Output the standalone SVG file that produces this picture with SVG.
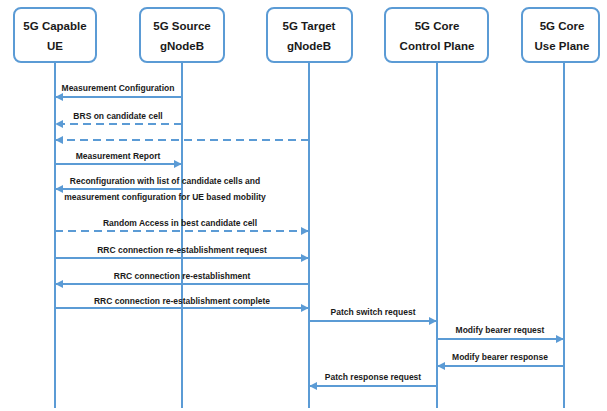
<svg xmlns="http://www.w3.org/2000/svg" width="607" height="411" viewBox="0 0 607 411">
<style>
.box{fill:#fff;stroke:#5B9BD5;stroke-width:2}
.life{stroke:#5B9BD5;stroke-width:2}
.msg{stroke:#5B9BD5;stroke-width:2;fill:none}
.dash{stroke-dasharray:8 5}
.bt{font-family:"Liberation Sans",Arial,sans-serif;font-weight:bold;font-size:11.5px;fill:#1a1a1a;text-anchor:middle}
.lt{font-family:"Liberation Sans",Arial,sans-serif;font-weight:bold;font-size:8.5px;fill:#1a1a1a;text-anchor:middle}
</style>
<defs>
<marker id="ah" viewBox="0 0 10 10" refX="9" refY="5" markerWidth="4" markerHeight="4" orient="auto" markerUnits="strokeWidth">
<path d="M0,0 L10,5 L0,10 z" fill="#5B9BD5"/>
</marker>
</defs>
<rect width="607" height="411" fill="#fff"/>
<g id="lifelines">
<line class="life" x1="55" y1="62" x2="55" y2="408"/>
<line class="life" x1="182" y1="62" x2="182" y2="408"/>
<line class="life" x1="309" y1="62" x2="309" y2="408"/>
<line class="life" x1="437" y1="62" x2="437" y2="408"/>
<line class="life" x1="564" y1="62" x2="564" y2="408"/>
</g>
<g id="ue"><rect class="box" x="14" y="8" width="82" height="54" rx="7"/><text class="bt" x="55" y="30">5G Capable</text><text class="bt" x="55" y="50">UE</text></g>
<g id="source"><rect class="box" x="140" y="8" width="84" height="54" rx="7"/><text class="bt" x="182" y="30">5G Source</text><text class="bt" x="182" y="50">gNodeB</text></g>
<g id="target"><rect class="box" x="267" y="8" width="85" height="54" rx="7"/><text class="bt" x="309" y="30">5G Target</text><text class="bt" x="309" y="50">gNodeB</text></g>
<g id="control"><rect class="box" x="385" y="8" width="103" height="54" rx="7"/><text class="bt" x="437" y="30">5G Core</text><text class="bt" x="437" y="50">Control Plane</text></g>
<g id="user"><rect class="box" x="522" y="8" width="77" height="54" rx="7"/><text class="bt" x="562" y="30">5G Core</text><text class="bt" x="562" y="50">Use Plane</text></g>
<g id="connectors">
<line class="msg" x1="182" y1="97" x2="56" y2="97" marker-end="url(#ah)"/>
<line class="msg dash" x1="182" y1="124" x2="56" y2="124" marker-end="url(#ah)"/>
<line class="msg dash" x1="309" y1="140" x2="56" y2="140" marker-end="url(#ah)"/>
<line class="msg" x1="55" y1="164" x2="181" y2="164" marker-end="url(#ah)"/>
<line class="msg" x1="182" y1="189" x2="56" y2="189" marker-end="url(#ah)"/>
<line class="msg dash" x1="55" y1="231" x2="308" y2="231" marker-end="url(#ah)"/>
<line class="msg" x1="55" y1="258" x2="308" y2="258" marker-end="url(#ah)"/>
<line class="msg" x1="309" y1="284" x2="56" y2="284" marker-end="url(#ah)"/>
<line class="msg" x1="55" y1="308" x2="308" y2="308" marker-end="url(#ah)"/>
<line class="msg" x1="309" y1="321" x2="436" y2="321" marker-end="url(#ah)"/>
<line class="msg" x1="437" y1="339" x2="563" y2="339" marker-end="url(#ah)"/>
<line class="msg" x1="564" y1="366" x2="438" y2="366" marker-end="url(#ah)"/>
<line class="msg" x1="437" y1="386" x2="310" y2="386" marker-end="url(#ah)"/>
</g>
<g id="labels">
<text class="lt" x="118" y="91">Measurement Configuration</text>
<text class="lt" x="118" y="119">BRS on candidate cell</text>
<text class="lt" x="118" y="159">Measurement Report</text>
<text class="lt" x="165" y="184">Reconfiguration with list of candidate cells and</text>
<text class="lt" x="165" y="200">measurement configuration for UE based mobility</text>
<text class="lt" x="180" y="226">Random Access in best candidate cell</text>
<text class="lt" x="182" y="253">RRC connection re-establishment request</text>
<text class="lt" x="182" y="279">RRC connection re-establishment</text>
<text class="lt" x="182" y="304">RRC connection re-establishment complete</text>
<text class="lt" x="373" y="315">Patch switch request</text>
<text class="lt" x="500" y="333">Modify bearer request</text>
<text class="lt" x="500" y="360">Modify bearer response</text>
<text class="lt" x="373" y="380">Patch response request</text>
</g>
</svg>
